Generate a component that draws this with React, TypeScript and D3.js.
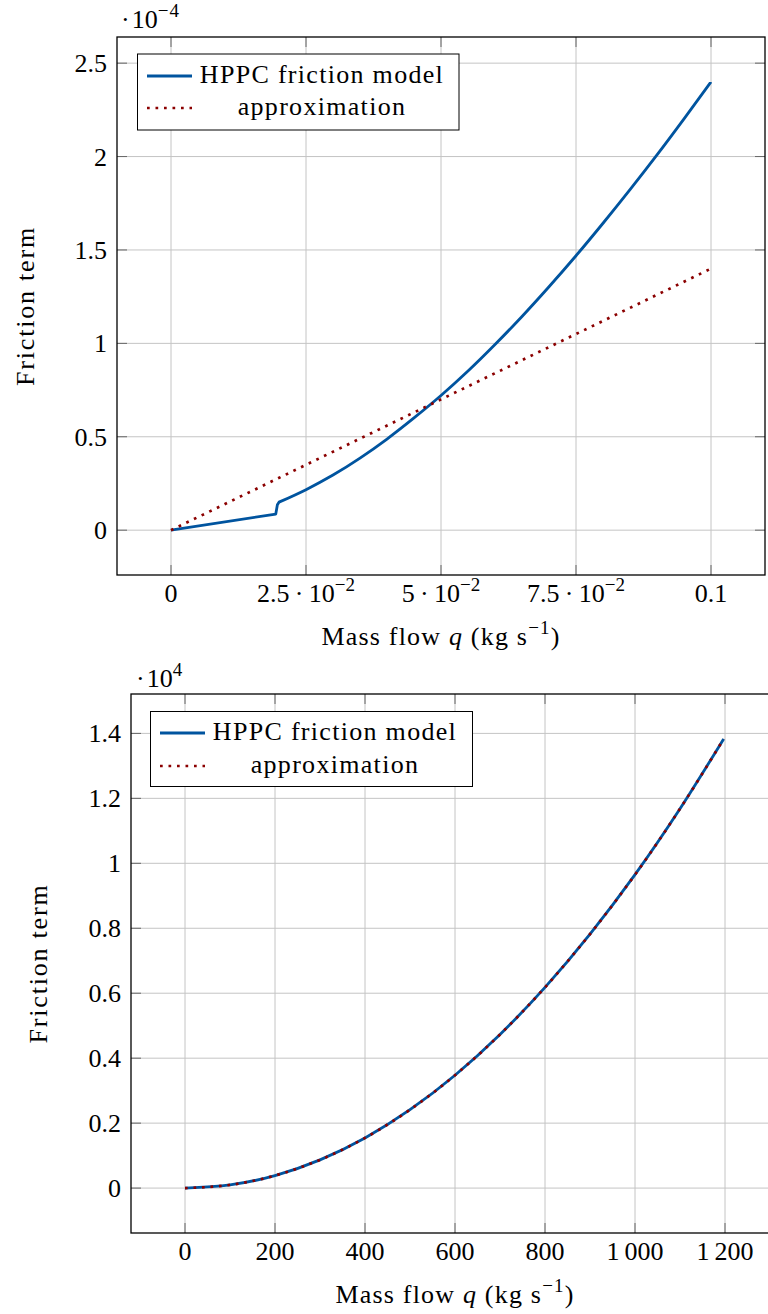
import React from 'react';
import * as d3 from 'd3';

// ---------- data ----------
// Top panel (values in 1e-4)
const topXTicks = [0, 0.025, 0.05, 0.075, 0.1];
const topXTickMant = ['0', '2.5', '5', '7.5', '0.1'];
const topXTickExp = ['', '−2', '−2', '−2', ''];
const topYTicks = [0, 0.5, 1, 1.5, 2, 2.5];
const topYTickLabels = ['0', '0.5', '1', '1.5', '2', '2.5'];
const topExponent = '−4';

const hppcLamQ = [0, 0.0194, 0.0197, 0.02];
const hppcLamF = [0, 0.086, 0.136, 0.15];
const hppcTurbQ = [0.02, 0.025, 0.03, 0.035, 0.04, 0.045, 0.05, 0.055, 0.06, 0.065, 0.07, 0.075, 0.08, 0.085, 0.09, 0.095, 0.1];
const hppcTurbF = [0.15, 0.217, 0.295, 0.386, 0.488, 0.601, 0.721, 0.852, 0.994, 1.144, 1.303, 1.469, 1.643, 1.823, 2.009, 2.202, 2.4];
const approxTopQ = [0, 0.1];
const approxTopF = [0, 1.4];

// Bottom panel (values in 1e4)
const botXTicks = [0, 200, 400, 600, 800, 1000, 1200];
const botXTickLabels = ['0', '200', '400', '600', '800', '1\u2009000', '1\u2009200'];
const botYTicks = [0, 0.2, 0.4, 0.6, 0.8, 1, 1.2, 1.4];
const botYTickLabels = ['0', '0.2', '0.4', '0.6', '0.8', '1', '1.2', '1.4'];
const botExponent = '4';

const hppcBotQ = [0, 100, 200, 300, 400, 500, 600, 700, 800, 900, 1000, 1100, 1197];
const hppcBotF = [0, 0.0097, 0.0386, 0.0869, 0.1544, 0.2413, 0.3475, 0.473, 0.618, 0.782, 0.965, 1.168, 1.383];
const approxBotQ = [0, 100, 200, 300, 400, 500, 600, 700, 800, 900, 1000, 1100, 1197];
const approxBotF = [0, 0.0097, 0.0386, 0.0869, 0.1544, 0.2413, 0.3475, 0.473, 0.618, 0.782, 0.965, 1.168, 1.383];

const legendLabels = ['HPPC friction model', 'approximation'];

// ---------- style ----------
const BLUE = '#00549f';
const RED = '#8b0000';
const FONT = '"Liberation Serif", "Times New Roman", serif';
const FS = 26;
const SUP = 19;
const DOTS = '2.7 5.8';

type Pt = [number, number];
const zip = (a: number[], b: number[]): Pt[] => a.map((v, i) => [v, b[i]]);

function Panel(props: any) {
  const { x0, x1, y0, y1, xDomain, yDomain, xTicks, xLabelFn, yTicks, yLabels, exponent, expX, expY,
    legend, yLabelX } = props;
  const x = d3.scaleLinear().domain(xDomain).range([x0, x1]);
  const y = d3.scaleLinear().domain(yDomain).range([y1, y0]);
  const paths = props.makePaths(x, y);
  const tickLen = 10;
  return (
    <g fontFamily={FONT} fontSize={FS} fill="#000">
      {xTicks.map((t: number, i: number) => (
        <line key={'gx' + i} x1={x(t)} x2={x(t)} y1={y0} y2={y1} stroke="#c4c4c4" strokeWidth={1} />
      ))}
      {yTicks.map((t: number, i: number) => (
        <line key={'gy' + i} x1={x0} x2={x1} y1={y(t)} y2={y(t)} stroke="#c4c4c4" strokeWidth={1} />
      ))}
      {xTicks.map((t: number, i: number) => (
        <g key={'tx' + i} stroke="#666" strokeWidth={1}>
          <line x1={x(t)} x2={x(t)} y1={y1} y2={y1 - tickLen} />
          <line x1={x(t)} x2={x(t)} y1={y0} y2={y0 + tickLen} />
        </g>
      ))}
      {yTicks.map((t: number, i: number) => (
        <g key={'ty' + i} stroke="#666" strokeWidth={1}>
          <line x1={x0} x2={x0 + tickLen} y1={y(t)} y2={y(t)} />
          <line x1={x1} x2={x1 - tickLen} y1={y(t)} y2={y(t)} />
        </g>
      ))}
      <path d={paths.blue} fill="none" stroke={BLUE} strokeWidth={2.8} strokeLinejoin="round" />
      <path d={paths.red} fill="none" stroke={RED} strokeWidth={2.7} strokeDasharray={DOTS} />
      <rect x={x0} y={y0} width={x1 - x0} height={y1 - y0} fill="none" stroke="#000" strokeWidth={1.3} />
      {xTicks.map((t: number, i: number) => xLabelFn(x(t), y1 + 27, i))}
      {yTicks.map((t: number, i: number) => (
        <text key={'ly' + i} x={x0 - 10} y={y(t) + 9} textAnchor="end">{yLabels[i]}</text>
      ))}
      <text x={expX} y={expY}>
        {'·\u200a10'}
        <tspan dy={-11} fontSize={SUP} letterSpacing={1}>{exponent}</tspan>
      </text>
      <text x={(x0 + x1) / 2} y={y1 + 70} textAnchor="middle" letterSpacing={1.2}>
        {'Mass flow '}
        <tspan fontStyle="italic">q</tspan>
        {' (kg s'}
        <tspan dy={-11} fontSize={SUP}>−1</tspan>
        <tspan dy={11}>)</tspan>
      </text>
      <text transform={`translate(${yLabelX},${(y0 + y1) / 2}) rotate(-90)`} textAnchor="middle" letterSpacing={1.8}>
        Friction term
      </text>
      <g>
        <rect x={legend.x} y={legend.y} width={legend.w} height={legend.h} fill="#fff" stroke="#000" strokeWidth={1} />
        <line x1={legend.lx0} x2={legend.lx1} y1={legend.r1} y2={legend.r1} stroke={BLUE} strokeWidth={2.8} />
        <line x1={legend.lx0} x2={legend.lx1} y1={legend.r2} y2={legend.r2} stroke={RED} strokeWidth={2.7} strokeDasharray={DOTS} />
        <text x={legend.tc} y={legend.r1 + 7} textAnchor="middle" letterSpacing={1.3}>{legendLabels[0]}</text>
        <text x={legend.tc} y={legend.r2 + 7} textAnchor="middle" letterSpacing={1.3}>{legendLabels[1]}</text>
      </g>
    </g>
  );
}

export default function App() {
  const topPaths = (x: any, y: any) => {
    const lin = d3.line<Pt>().x(d => x(d[0])).y(d => y(d[1]));
    const smooth = d3.line<Pt>().x(d => x(d[0])).y(d => y(d[1])).curve(d3.curveMonotoneX);
    const lam = lin(zip(hppcLamQ, hppcLamF)) || '';
    const turb = (smooth(zip(hppcTurbQ, hppcTurbF)) || '').replace(/^M/, 'L');
    return { blue: lam + turb, red: lin(zip(approxTopQ, approxTopF)) || '' };
  };
  const botPaths = (x: any, y: any) => {
    const smooth = d3.line<Pt>().x(d => x(d[0])).y(d => y(d[1])).curve(d3.curveMonotoneX);
    return { blue: smooth(zip(hppcBotQ, hppcBotF)) || '', red: smooth(zip(approxBotQ, approxBotF)) || '' };
  };
  const topXLabel = (px: number, py: number, i: number) => (
    <text key={'lx' + i} x={px} y={py} textAnchor="middle">
      {topXTickExp[i] ? (
        <>
          {topXTickMant[i] + '\u2009·\u200910'}
          <tspan dy={-11} fontSize={SUP}>{topXTickExp[i]}</tspan>
        </>
      ) : topXTickMant[i]}
    </text>
  );
  const botXLabel = (px: number, py: number, i: number) => (
    <text key={'lx' + i} x={px} y={py} textAnchor="middle">{botXTickLabels[i]}</text>
  );
  return (
    <svg width={768} height={1314} style={{ position: 'absolute', left: 0, top: 0, background: '#fff' }}>
      <rect width={768} height={1314} fill="#fff" />
      <Panel
        x0={117} x1={765} y0={37} y1={575}
        xDomain={[-0.01, 0.11]} yDomain={[-0.24, 2.64]}
        xTicks={topXTicks} xLabelFn={topXLabel}
        yTicks={topYTicks} yLabels={topYTickLabels}
        exponent={topExponent} expX={121} expY={28}
        makePaths={topPaths}
        yLabelX={34}
        legend={{ x: 137.5, y: 54, w: 321.5, h: 76, lx0: 147, lx1: 192, r1: 76, r2: 108, tc: 322 }}
      />
      <Panel
        x0={131} x1={779} y0={694} y1={1233}
        xDomain={[-120, 1320]} yDomain={[-0.1383, 1.5213]}
        xTicks={botXTicks} xLabelFn={botXLabel}
        yTicks={botYTicks} yLabels={botYTickLabels}
        exponent={botExponent} expX={136} expY={687}
        makePaths={botPaths}
        yLabelX={47}
        legend={{ x: 150.5, y: 711.5, w: 322, h: 75, lx0: 160, lx1: 205, r1: 733, r2: 766, tc: 335 }}
      />
    </svg>
  );
}
